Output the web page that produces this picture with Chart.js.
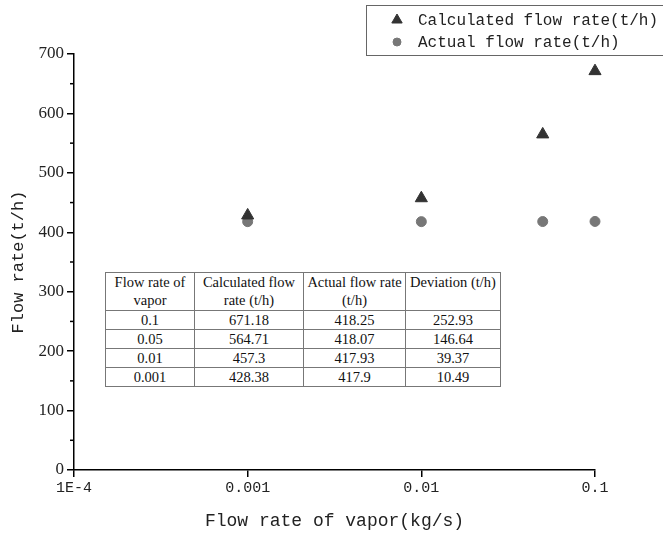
<!DOCTYPE html>
<html>
<head>
<meta charset="utf-8">
<script src="https://cdn.jsdelivr.net/npm/chart.js@4/dist/chart.umd.min.js"></script>
<style>
  body { margin: 0; background: #fff; }
  #wrap { position: relative; width: 663px; height: 536px; }
  #tbl { position: absolute; left: 105px; top: 272px; border-collapse: collapse;
         font-family: "Liberation Serif", serif; font-size: 14.5px; color: #111; background: #fff; }
  #tbl td { border: 1px solid #777; text-align: center; padding: 0 1px; line-height: 18px; }
</style>
</head>
<body>
<div id="wrap">
  <canvas id="chart" width="663" height="536"></canvas>
  <table id="tbl"></table>
</div>
<script>
const vapor = [0.001, 0.01, 0.05, 0.1];
const calculated = [428.38, 457.3, 564.71, 671.18];
const actual = [417.9, 417.93, 418.07, 418.25];
const xTicks = [1e-4, 1e-3, 1e-2, 1e-1];
const xTickLabels = ["1E-4", "0.001", "0.01", "0.1"];

const tableHead = ["Flow rate of vapor", "Calculated flow rate (t/h)", "Actual flow rate (t/h)", "Deviation (t/h)"];
const tableRows = [
  ["0.1", "671.18", "418.25", "252.93"],
  ["0.05", "564.71", "418.07", "146.64"],
  ["0.01", "457.3", "417.93", "39.37"],
  ["0.001", "428.38", "417.9", "10.49"]
];
const colWidths = [86, 106, 99, 92];

const tbl = document.getElementById("tbl");
let tr = document.createElement("tr");
tableHead.forEach((h, i) => {
  const td = document.createElement("td");
  td.textContent = h;
  td.style.width = colWidths[i] + "px";
  td.style.verticalAlign = "top";
  td.style.height = "37px";
  tr.appendChild(td);
});
tbl.appendChild(tr);
tableRows.forEach(r => {
  const row = document.createElement("tr");
  r.forEach(c => {
    const td = document.createElement("td");
    td.textContent = c;
    row.appendChild(td);
  });
  tbl.appendChild(row);
});

const monoFont = '"Liberation Mono", monospace';

const extras = {
  id: "extras",
  afterDraw(chart) {
    const ctx = chart.ctx;
    const y = chart.scales.y;
    ctx.save();
    ctx.strokeStyle = "#000";
    ctx.lineWidth = 1.5;
    for (let v = 50; v < 700; v += 100) {
      const py = y.getPixelForValue(v);
      ctx.beginPath();
      ctx.moveTo(y.right - 4, py);
      ctx.lineTo(y.right, py);
      ctx.stroke();
    }
    // legend
    ctx.strokeStyle = "#666";
    ctx.lineWidth = 1;
    ctx.strokeRect(366.5, 5.5, 300, 50);
    ctx.font = "16px " + monoFont;
    ctx.textBaseline = "middle";
    chart.data.datasets.forEach((ds, i) => {
      const ly = 20 + i * 22;
      ctx.fillStyle = ds.backgroundColor;
      ctx.strokeStyle = ds.borderColor;
      Chart.helpers.drawPoint(ctx, {
        pointStyle: ds.pointStyle, radius: ds.pointRadius - 1, rotation: 0, borderWidth: 1
      }, 397, ly);
      ctx.fillStyle = "#222";
      ctx.fillText(ds.label, 418, ly + 1);
    });
    ctx.restore();
  }
};

new Chart(document.getElementById("chart"), {
  type: "scatter",
  data: {
    datasets: [
      {
        label: "Calculated flow rate(t/h)",
        data: vapor.map((x, i) => ({x: x, y: calculated[i]})),
        pointStyle: "triangle",
        pointRadius: 7,
        backgroundColor: "#333",
        borderColor: "#333",
        clip: false
      },
      {
        label: "Actual flow rate(t/h)",
        data: vapor.map((x, i) => ({x: x, y: actual[i]})),
        pointStyle: "circle",
        pointRadius: 5,
        backgroundColor: "#777",
        borderColor: "#777",
        clip: false
      }
    ]
  },
  options: {
    responsive: false,
    animation: false,
    layout: { padding: { left: 8, top: 54, right: 68, bottom: 4 } },
    plugins: { legend: { display: false }, tooltip: { enabled: false } },
    scales: {
      x: {
        type: "logarithmic",
        min: 1e-4,
        max: 0.1,
        afterBuildTicks(s) { s.ticks = xTicks.map(v => ({value: v})); },
        afterFit(s) { s.height = 62; },
        ticks: {
          color: "#222",
          font: { family: monoFont, size: 15 },
          padding: 2,
          maxRotation: 0,
          autoSkip: false,
          callback: (v, i) => xTickLabels[i]
        },
        grid: { drawOnChartArea: false, color: "#000", tickLength: 7, lineWidth: 1.5 },
        border: { color: "#000", width: 1.5 },
        title: {
          display: true,
          text: "Flow rate of vapor(kg/s)",
          color: "#222",
          font: { family: monoFont, size: 18 },
          padding: { top: 4, bottom: 0 }
        }
      },
      y: {
        min: 0,
        max: 700,
        afterFit(s) { s.width = 66; },
        ticks: {
          stepSize: 100,
          color: "#222",
          font: { family: "Liberation Serif", size: 17 },
          padding: 3
        },
        grid: { drawOnChartArea: false, color: "#000", tickLength: 7, lineWidth: 1.5 },
        border: { color: "#000", width: 1.5 },
        title: {
          display: true,
          text: "Flow rate(t/h)",
          color: "#222",
          font: { family: monoFont, size: 17 },
          padding: { top: 0, bottom: 6 }
        }
      }
    }
  },
  plugins: [extras]
});
</script>
</body>
</html>
